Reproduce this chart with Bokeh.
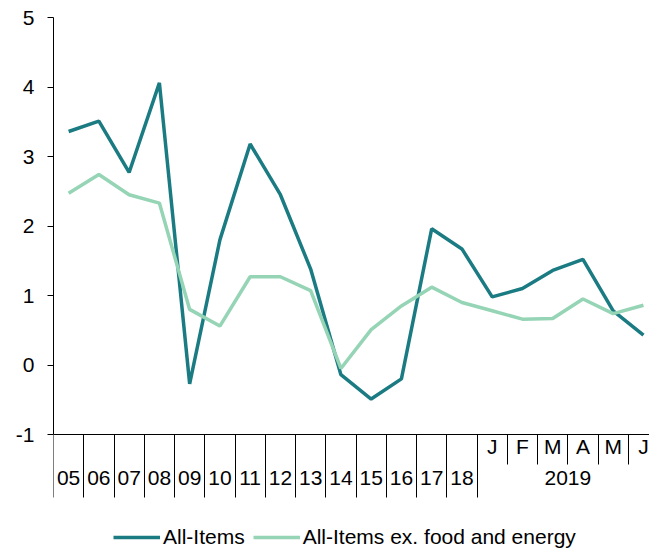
from bokeh.plotting import figure
from bokeh.models import (ColumnDataSource, LinearAxis, FixedTicker, Range1d,
                          Legend, LegendItem)
from bokeh.embed import file_html
from bokeh.resources import INLINE

# ---- data ----
year_labels = ["05", "06", "07", "08", "09", "10", "11", "12", "13",
               "14", "15", "16", "17", "18"]
month_labels = ["J", "F", "M", "A", "M", "J"]
group_label = "2019"
categories = year_labels + month_labels

all_items = [3.36, 3.51, 2.77, 4.06, -0.27, 1.80, 3.18, 2.45, 1.38,
             -0.14, -0.49, -0.20, 1.96, 1.67,
             0.98, 1.10, 1.36, 1.52, 0.78, 0.43]
core = [2.47, 2.74, 2.45, 2.33, 0.80, 0.56, 1.27, 1.27, 1.07,
        -0.05, 0.51, 0.85, 1.12, 0.90,
        0.78, 0.66, 0.67, 0.95, 0.74, 0.86]
y_ticks = [-1, 0, 1, 2, 3, 4, 5]

series_names = ["All-Items", "All-Items ex. food and energy"]
colors = ["#1b7b83", "#95d4b5"]

FONT = "Liberation Sans"
FS = "21px"

n = len(categories)
n_years = len(year_labels)
centers = [i + 0.5 for i in range(n)]
year_centers = centers[:n_years]
month_centers = centers[n_years:]
group_center = n_years + len(month_labels) / 2.0
month_separators = [float(i) for i in range(n_years + 1, n)]
year_separators = [float(i) for i in range(n_years + 1)]

# layout: plotted value area 417px tall (-1..5); frame extends 117px lower
# so that the category rows and the legend live inside the frame
Y_LO, Y_HI = y_ticks[0], y_ticks[-1]
px_per_unit = 417.0 / (Y_HI - Y_LO)
y_view_lo = Y_LO - 117.0 / px_per_unit

source = ColumnDataSource(dict(x=centers, all_items=all_items, core=core))

p = figure(width=649, height=551, frame_width=596, frame_height=534,
           x_range=Range1d(0, 19.7), y_range=Range1d(y_view_lo, Y_HI),
           x_axis_type=None, output_backend="svg", toolbar_location=None,
           min_border_left=53, min_border_right=0, min_border_top=17,
           min_border_bottom=0)
p.outline_line_color = None
p.xgrid.grid_line_color = None
p.ygrid.grid_line_color = None
p.background_fill_color = "white"
p.border_fill_color = "white"

ya = p.yaxis[0]
ya.ticker = FixedTicker(ticks=y_ticks)
ya.bounds = (Y_LO, Y_HI)
ya.major_label_overrides = {t: str(t) for t in y_ticks}
ya.major_tick_out = 6
ya.major_tick_in = 0
ya.minor_tick_out = 0
ya.minor_tick_in = 0
ya.axis_line_color = "black"
ya.major_tick_line_color = "black"
ya.major_label_standoff = 13
ya.major_label_text_font = FONT
ya.major_label_text_font_size = FS
ya.major_label_text_color = "black"

# first row under the axis: months + month separators (short)
xa1 = LinearAxis(ticker=FixedTicker(ticks=month_centers, minor_ticks=month_separators),
                 fixed_location=Y_LO)
xa1.major_label_overrides = {c: lab for c, lab in zip(month_centers, month_labels)}
xa1.major_tick_out = 0
xa1.major_tick_in = 0
xa1.minor_tick_out = 30
xa1.minor_tick_in = 0
xa1.minor_tick_line_color = "black"
xa1.axis_line_color = "black"
xa1.major_label_standoff = -30
xa1.major_label_text_font = FONT
xa1.major_label_text_font_size = FS
xa1.major_label_text_color = "black"
p.add_layout(xa1, "below")

# second row: years + group label + year separators (long)
row2_ticks = year_centers + [group_center]
row2_labels = year_labels + [group_label]
xa2 = LinearAxis(ticker=FixedTicker(ticks=row2_ticks, minor_ticks=year_separators),
                 fixed_location=Y_LO)
xa2.major_label_overrides = {c: lab for c, lab in zip(row2_ticks, row2_labels)}
xa2.major_tick_out = 0
xa2.major_tick_in = 0
xa2.minor_tick_out = 63
xa2.minor_tick_in = 0
xa2.minor_tick_line_color = "black"
xa2.axis_line_color = None
xa2.major_label_standoff = -27
xa2.major_label_text_font = FONT
xa2.major_label_text_font_size = FS
xa2.major_label_text_color = "black"
p.add_layout(xa2, "below")

r1 = p.line("x", "all_items", source=source, line_color=colors[0], line_width=3.5)
r2 = p.line("x", "core", source=source, line_color=colors[1], line_width=3.5)

legend = Legend(items=[LegendItem(label=series_names[0], renderers=[r1]),
                       LegendItem(label=series_names[1], renderers=[r2])],
                orientation="horizontal", location=(60, 2),
                label_text_font=FONT, label_text_font_size=FS,
                label_text_color="black", glyph_width=47, glyph_height=20,
                label_standoff=3, spacing=8, padding=0, margin=0,
                border_line_color=None, background_fill_alpha=0)
p.add_layout(legend, "center")

open("out.html", "w").write(file_html(p, INLINE))
